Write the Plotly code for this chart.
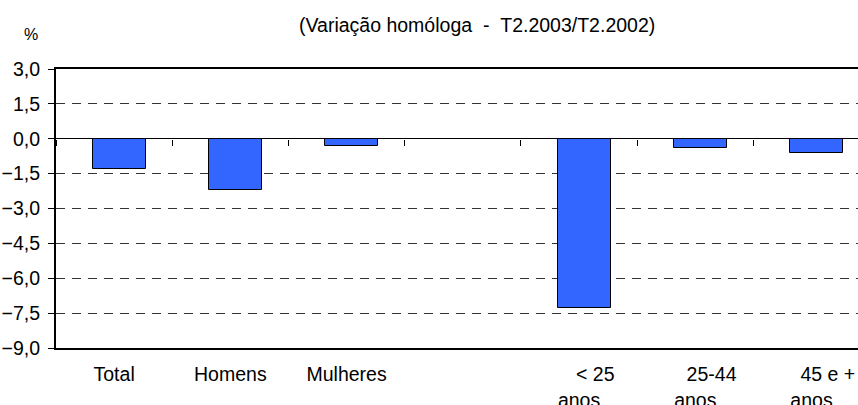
import plotly.graph_objects as go

categories = ["Total", "Homens", "Mulheres", " ", "< 25 anos", "25-44 anos", "45 e + anos"]
tick_text = ["Total", "Homens", "Mulheres", "",
             "\u00a0" * 6 + "< 25<br>anos",
             "\u00a0" * 6 + "25-44<br>anos",
             "\u00a0" * 6 + "45 e +<br>anos"]
values = [-1.3, -2.2, -0.3, None, -7.3, -0.4, -0.6]
y_ticks = [3.0, 1.5, 0.0, -1.5, -3.0, -4.5, -6.0, -7.5, -9.0]

FONT = "Liberation Sans, Arial, sans-serif"
FS = 19.5

fig = go.Figure()
fig.add_trace(go.Bar(
    x=categories, y=values,
    width=0.456, offset=-0.182,
    marker=dict(color="#3366FF", line=dict(color="#000000", width=1)),
    hoverinfo="x+y",
))
# invisible trace registering categories on the tick axis drawn at zero
fig.add_trace(go.Scatter(
    x=categories, y=[0] * len(categories), xaxis="x2",
    mode="markers", marker=dict(opacity=0), hoverinfo="skip", showlegend=False,
))

cat_axis = dict(type="category", categoryorder="array", categoryarray=categories,
                range=[-0.5, 6.4], automargin=False)

fig.update_layout(
    width=858, height=405,
    margin=dict(l=56, r=0, t=69, b=57, autoexpand=False),
    paper_bgcolor="white", plot_bgcolor="white",
    separators=",.",
    showlegend=False,
    bargap=0,
    font=dict(family=FONT, size=FS, color="#000000"),
    xaxis=dict(**cat_axis, tickmode="array", tickvals=categories, ticktext=tick_text,
               ticks="", showline=True, linecolor="#000000", linewidth=2,
               mirror=True, showgrid=False, zeroline=False,
               ticklabelstandoff=8,
               tickfont=dict(family=FONT, size=FS, color="#000000")),
    xaxis2=dict(**cat_axis, overlaying="x", anchor="free", position=0.75,
                ticks="outside", tickson="boundaries", ticklen=6,
                tickcolor="#000000", tickwidth=1,
                showticklabels=False, showline=False, showgrid=False, zeroline=False),
    yaxis=dict(range=[-9, 3], tickmode="array", tickvals=y_ticks, automargin=False,
               tickformat=".1f", ticks="outside", ticklen=6, tickcolor="#000000",
               showline=True, linecolor="#000000", linewidth=2,
               showgrid=True, gridcolor="#333333", gridwidth=1, griddash="9px,7px",
               zeroline=True, zerolinecolor="#000000", zerolinewidth=1,
               ticklabelstandoff=4,
               tickfont=dict(family=FONT, size=FS, color="#000000")),
    annotations=[
        dict(text="(Variação homóloga\u00a0\u00a0-\u00a0\u00a0T2.2003/T2.2002)",
             xref="paper", yref="paper", x=0.525, y=1.158,
             xanchor="center", yanchor="middle", showarrow=False,
             font=dict(family=FONT, size=FS, color="#000000")),
        dict(text="%", xref="paper", yref="paper", x=-0.0312, y=1.125,
             xanchor="center", yanchor="middle", showarrow=False,
             font=dict(family=FONT, size=16, color="#000000")),
    ],
)

fig.write_html(
    "out.html",
    config={"displayModeBar": False},
    post_script="document.body.style.margin='0px';document.body.style.overflow='hidden';",
)
